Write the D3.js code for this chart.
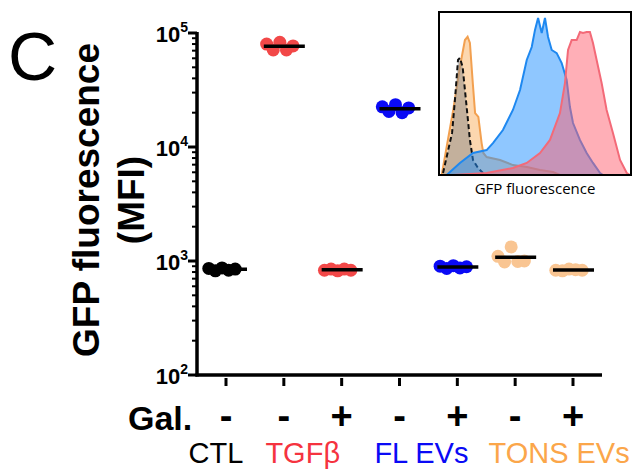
<!DOCTYPE html>
<html>
<head>
<meta charset="utf-8">
<script src="https://cdn.jsdelivr.net/npm/d3@7"></script>
<style>
  body { margin: 0; background: #fff; }
  svg { display: block; font-family: "Liberation Sans", Arial, sans-serif; }
</style>
</head>
<body>
<div id="chart"></div>
<script>
// conditions along the x axis
const galSigns = ["-", "-", "+", "-", "+", "-", "+"];
const pointColors = ["#000000", "#f24848", "#f24848", "#0a0af5", "#0a0af5", "#f9c592", "#f9c592"];

// MFI replicates per condition
const ctlVals = [860, 820, 870, 830, 850];
const tgfVals = [80000, 71000, 83000, 71000, 77000];
const tgfGalVals = [830, 850, 820, 850, 830];
const flVals = [22500, 20500, 23500, 20000, 22000];
const flGalVals = [900, 860, 910, 870, 890];
const tonsVals = [1100, 980, 1330, 990, 1000];
const tonsGalVals = [830, 820, 850, 840, 830];
const groupVals = [ctlVals, tgfVals, tgfGalVals, flVals, flGalVals, tonsVals, tonsGalVals];

const groupNames = ["CTL", "TGFβ", "FL EVs", "TONS EVs"];
const groupColors = ["#000000", "#f5333f", "#0a0af5", "#fba64a"];
const yTickExps = [2, 3, 4, 5];

// inset histograms: [channel, count] (both 0-100)
const histTons = [[1.4,0],[7.4,39.9],[10.9,66.4],[13.5,82.8],[14.9,84.8],[16.1,81.0],[17.6,56.4],[18.8,38.0],[20.5,35.6],[22.2,19.6],[23.1,13.5],[24.8,11.0],[31.8,9.2],[38.5,6.1],[45.8,4.9],[52.6,3.1],[59.4,1.8],[63.0,0]];
const histCtl = [[2.1,1.2],[6.8,25.8],[8.3,46.0],[9.9,70.6],[10.9,71.8],[12.3,66.3],[14.4,41.7],[16.1,21.5],[17.7,9.2],[20.3,4.3],[22.9,1.2],[25.0,0]];
const histFl = [[4.0,0],[10.9,7.4],[17.7,13.5],[24.8,15.3],[28.1,19.6],[33.3,27.6],[38.5,39.9],[42.2,52.1],[45.7,70.6],[48.3,78.5],[50.0,89.0],[51.6,96.3],[53.5,87.1],[55.2,96.3],[56.8,84.7],[58.7,76.7],[61.3,74.8],[63.9,68.7],[66.5,58.3],[68.2,41.7],[69.8,31.9],[73.4,21.5],[76.9,13.5],[80.2,7.4],[83.9,1.2],[85.4,0]];
const histTgf = [[7.3,0],[24.8,1.2],[38.5,4.3],[45.7,7.4],[52.6,13.5],[57.8,21.5],[63.0,38.0],[65.6,56.4],[67.2,76.7],[69.1,82.8],[71.7,82.8],[73.4,87.7],[75.0,87.1],[76.9,87.7],[78.6,87.7],[80.2,81.0],[82.1,70.6],[84.7,56.4],[87.3,39.9],[90.6,25.8],[94.3,9.2],[97.8,1.2],[99.5,0]];

const svg = d3.select("#chart").append("svg")
    .attr("width", 641)
    .attr("height", 469);

const axisX = 197, axisTop = 33, axisBottom = 375, axisRight = 602;

const y = d3.scaleLog().domain([100, 100000]).range([axisBottom, axisTop]);
const x = d3.scalePoint().domain(d3.range(galSigns.length)).range([226, 573]);

// panel letter
svg.append("text")
    .attr("x", 8).attr("y", 80)
    .style("font-size", "68px")
    .text("C");

// y axis title
const yTitle = svg.append("text")
    .attr("transform", "translate(110,200) rotate(-90)")
    .attr("text-anchor", "middle")
    .style("font-size", "37px")
    .style("font-weight", "bold");
yTitle.append("tspan").attr("x", 0).attr("dy", "-0.3em").text("GFP fluorescence");
yTitle.append("tspan").attr("x", 0).attr("dy", "1.22em").text("(MFI)");

// y axis with minor ticks
const yAxis = svg.append("g");
const minor = [];
for (let e = 2; e < 5; e++) for (let m = 2; m <= 9; m++) minor.push(m * Math.pow(10, e));
yAxis.selectAll("line.minor").data(minor).enter().append("line")
    .attr("x1", axisX - 5).attr("x2", axisX)
    .attr("y1", d => y(d)).attr("y2", d => y(d))
    .attr("stroke", "#000").attr("stroke-width", 2);
yAxis.selectAll("line.major").data(yTickExps).enter().append("line")
    .attr("x1", axisX - 9).attr("x2", axisX)
    .attr("y1", d => y(Math.pow(10, d))).attr("y2", d => y(Math.pow(10, d)))
    .attr("stroke", "#000").attr("stroke-width", 3);
const yLab = yAxis.selectAll("text").data(yTickExps).enter().append("text")
    .attr("x", axisX - 9)
    .attr("y", d => y(Math.pow(10, d)) + 9)
    .attr("text-anchor", "end")
    .style("font-size", "22px")
    .style("font-weight", "bold");
yLab.append("tspan").text("10");
yLab.append("tspan").attr("dy", -10).style("font-size", "14px").text(d => d);

yAxis.append("line")
    .attr("x1", axisX).attr("x2", axisX)
    .attr("y1", axisTop - 1).attr("y2", axisBottom + 1.5)
    .attr("stroke", "#000").attr("stroke-width", 3.5);

// x axis
svg.append("line")
    .attr("x1", axisX - 1.5).attr("x2", axisRight)
    .attr("y1", axisBottom).attr("y2", axisBottom)
    .attr("stroke", "#000").attr("stroke-width", 3.5);
svg.selectAll("line.xtick").data(galSigns).enter().append("line")
    .attr("x1", (d, i) => x(i)).attr("x2", (d, i) => x(i))
    .attr("y1", axisBottom + 3).attr("y2", axisBottom + 11)
    .attr("stroke", "#000").attr("stroke-width", 3);

svg.append("text")
    .attr("x", 128).attr("y", 430)
    .style("font-size", "34px").style("font-weight", "bold")
    .text("Gal.");
svg.selectAll("text.gal").data(galSigns).enter().append("text")
    .attr("x", (d, i) => x(i)).attr("y", 429)
    .attr("text-anchor", "middle")
    .style("font-size", "38px").style("font-weight", "bold")
    .text(d => d);

// group labels under the Gal. row
const groupPos = [x(0) - 10, (x(1) + x(2)) / 2 - 10, (x(3) + x(4)) / 2 - 7, (x(5) + x(6)) / 2 + 15];
svg.selectAll("text.grp").data(groupNames).enter().append("text")
    .attr("x", (d, i) => groupPos[i]).attr("y", 463)
    .attr("text-anchor", "middle")
    .style("font-size", "29px")
    .attr("fill", (d, i) => groupColors[i])
    .text(d => d);

// scatter points and mean lines
const spread = [-12, -6, 0, 6, 12];
groupVals.forEach((vals, gi) => {
    const g = svg.append("g");
    g.selectAll("circle").data(vals).enter().append("circle")
        .attr("cx", (d, i) => x(gi) - 4 + spread[i] * 1.1)
        .attr("cy", d => y(d))
        .attr("r", 6.5)
        .attr("fill", pointColors[gi]);
    const m = d3.mean(vals);
    g.append("line")
        .attr("x1", x(gi) - 20).attr("x2", x(gi) + 21)
        .attr("y1", y(m)).attr("y2", y(m))
        .attr("stroke", "#000").attr("stroke-width", 3.5);
});

// inset histogram
const ix = d3.scaleLinear().domain([0, 100]).range([439, 631]);
const iy = d3.scaleLinear().domain([0, 100]).range([175, 12]);
const area = d3.area().x(d => ix(d[0])).y0(iy(0)).y1(d => iy(d[1]));
const line = d3.line().x(d => ix(d[0])).y(d => iy(d[1]));
const inset = svg.append("g");
const hists = [
    { data: histTons, fill: "#f9b060", stroke: "#f2a050", dash: null, op: 0.5 },
    { data: histCtl, fill: "#8a8a8a", stroke: "#111", dash: "5,3", op: 0.5 },
    { data: histFl, fill: "#2090ff", stroke: "#1e88f0", dash: null, op: 0.5 },
    { data: histTgf, fill: "#ff6070", stroke: "#f36a78", dash: null, op: 0.5 }
];
hists.forEach(h => {
    inset.append("path").datum(h.data)
        .attr("d", area)
        .attr("fill", h.fill).attr("fill-opacity", h.op);
    inset.append("path").datum(h.data)
        .attr("d", line)
        .attr("fill", "none")
        .attr("stroke", h.stroke)
        .attr("stroke-width", 2)
        .attr("stroke-dasharray", h.dash);
});
inset.append("rect")
    .attr("x", 439).attr("y", 12).attr("width", 192).attr("height", 163)
    .attr("fill", "none").attr("stroke", "#000").attr("stroke-width", 2);
inset.append("text")
    .attr("x", 535).attr("y", 194)
    .attr("text-anchor", "middle")
    .style("font-size", "15px")
    .style("font-family", "'Open Sans', sans-serif")
    .text("GFP fluorescence");
</script>
</body>
</html>
